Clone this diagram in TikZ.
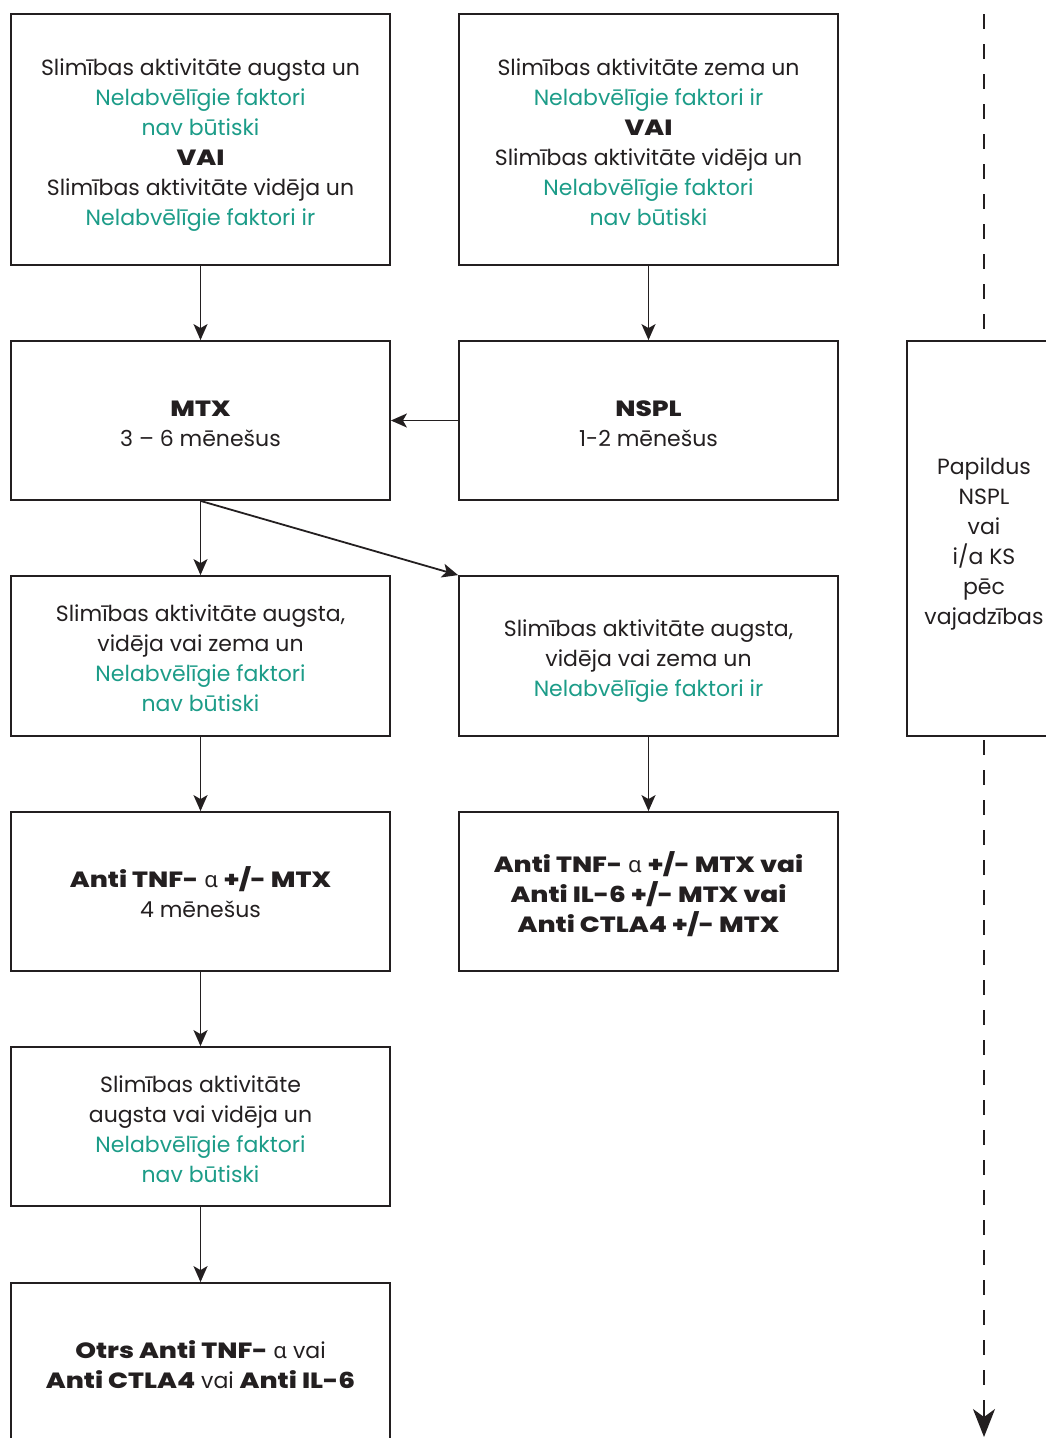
\documentclass[tikz,border=0pt]{standalone}
\usepackage{fontspec}
\setmainfont{Poppins}[BoldFont={Poppins ExtraBold},BoldFeatures={FakeStretch=1.2}]
\newfontfamily\greekfont{Noto Sans}
\usetikzlibrary{arrows.meta}
\definecolor{ink}{RGB}{35,31,32}
\definecolor{teal}{RGB}{28,156,136}
\newcommand{\nf}[1]{\textcolor{teal}{#1}}
\newcommand{\alf}{{\greekfont\mdseries α}}
% one text line of fixed height and depth, so every block sits the same way
\newcommand{\ls}[1]{\rule[-4.5pt]{0pt}{30pt}\smash{#1}}
\begin{document}
\begin{tikzpicture}[x=1pt,y=-1pt,
  box/.style={draw=ink,line width=1.8pt,align=center,inner sep=0pt,
    font=\fontsize{22}{30}\selectfont,text=ink,minimum width=379pt},
  tall/.style={box,minimum height=251pt},
  mid/.style={box,minimum height=159pt},
  link/.style={draw=ink,line width=1.8pt,-{Stealth[length=16pt,width=14pt,inset=4pt]}},
  dashlink/.style={draw=ink,line width=1.8pt,dash pattern=on 15pt off 15pt}]
\useasboundingbox (0,0) rectangle (1046,1438);

\node[tall] (a) at (200.5,139.5) {\ls{Slimības aktivitāte augsta un}\\ \ls{\nf{Nelabvēlīgie faktori}}\\ \ls{\nf{nav būtiski}}\\ \ls{\textbf{VAI}}\\ \ls{Slimības aktivitāte vidēja un}\\ \ls{\nf{Nelabvēlīgie faktori ir}}};
\node[tall] (b) at (648.5,139.5) {\ls{Slimības aktivitāte zema un}\\ \ls{\nf{Nelabvēlīgie faktori ir}}\\ \ls{\textbf{VAI}}\\ \ls{Slimības aktivitāte vidēja un}\\ \ls{\nf{Nelabvēlīgie faktori}}\\ \ls{\nf{nav būtiski}}};

\node[mid] (mtx) at (200.5,420.5) {\ls{\textbf{MTX}}\\ \ls{3 – 6 mēnešus}};
\node[mid] (nspl) at (648.5,420.5) {\ls{\textbf{NSPL}}\\ \ls{1-2 mēnešus}};

\node[mid,minimum height=160pt] (c1) at (200.5,656) {\ls{Slimības aktivitāte augsta,}\\ \ls{vidēja vai zema un}\\ \ls{\nf{Nelabvēlīgie faktori}}\\ \ls{\nf{nav būtiski}}};
\node[mid,minimum height=160pt] (c2) at (648.5,656) {\ls{Slimības aktivitāte augsta,}\\ \ls{vidēja vai zema un}\\ \ls{\nf{Nelabvēlīgie faktori ir}}};

\node[mid] (d1) at (200.5,891.5) {\ls{\textbf{Anti TNF-} \alf{} \textbf{+/- MTX}}\\ \ls{4 mēnešus}};
\node[mid] (d2) at (648.5,891.5) {\ls{\textbf{Anti TNF-} \alf{} \textbf{+/- MTX vai}}\\ \ls{\textbf{Anti IL-6 +/- MTX vai}}\\ \ls{\textbf{Anti CTLA4 +/- MTX}}};

\node[mid] (e) at (200.5,1126.5) {\ls{Slimības aktivitāte}\\ \ls{augsta vai vidēja un}\\ \ls{\nf{Nelabvēlīgie faktori}}\\ \ls{\nf{nav būtiski}}};
\node[mid,minimum height=160pt] (f) at (200.5,1363) {\ls{\textbf{Otrs Anti TNF-} \alf{} vai}\\ \ls{\textbf{Anti CTLA4} vai \textbf{Anti IL-6}}};

\node[box,minimum width=154pt,minimum height=395pt] (side) at (984,538.5) {\ls{Papildus}\\ \ls{NSPL}\\ \ls{vai}\\ \ls{i/a KS}\\ \ls{pēc}\\ \ls{vajadzības}};

% flow connectors
\draw[link] (a.south) -- (mtx.north);
\draw[link] (b.south) -- (nspl.north);
\draw[link] (nspl.west) -- (mtx.east);
\draw[link] (mtx.south) -- (c1.north);
\draw[link] (mtx.south) -- (c2.north west);
\draw[link] (c1.south) -- (d1.north);
\draw[link] (c2.south) -- (d2.north);
\draw[link] (d1.south) -- (e.north);
\draw[link] (e.south) -- (f.north);

% dashed timeline through the side box
\coordinate (top) at (984,14);
\coordinate (abovebox) at (984,329);
\coordinate (belowbox) at (984,740);
\coordinate (lastdash) at (984,1385);
\coordinate (shaft) at (984,1400);
\coordinate (bot) at (984,1437);
\draw[dashlink] (top) -- (abovebox);
\draw[dashlink] (belowbox) -- (lastdash);
\draw[draw=ink,fill=ink,line width=1.8pt,-{Stealth[length=28pt,width=22pt,inset=8pt]}] (shaft) -- (bot);
\end{tikzpicture}
\end{document}
